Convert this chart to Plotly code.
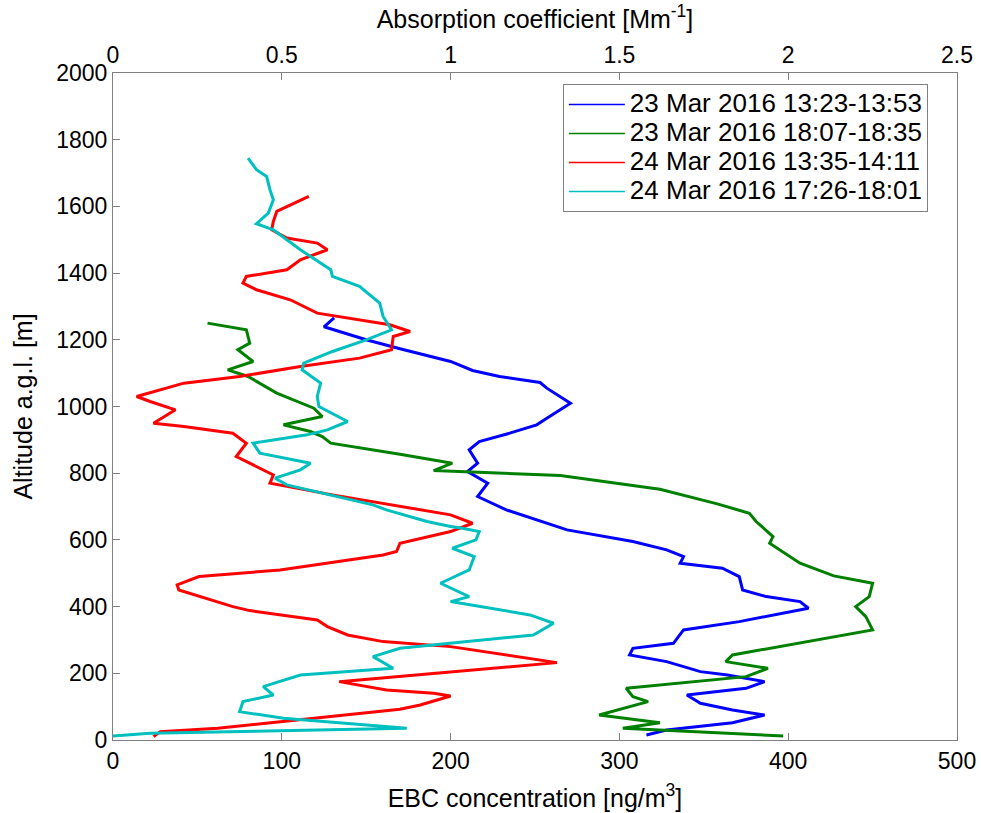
import plotly.graph_objects as go

# ---- data (EBC concentration [ng/m3], altitude [m]) ----
labels = ["23 Mar 2016 13:23-13:53", "23 Mar 2016 18:07-18:35",
          "24 Mar 2016 13:35-14:11", "24 Mar 2016 17:26-18:01"]
colors = ["#0000FF", "#008000", "#FF0000", "#00BFBF"]

blue_x = [131, 125, 150, 170, 200, 213, 229, 253, 257, 271, 257, 251, 235, 217, 211, 216, 210, 222, 216, 233,
          269, 308, 328, 338, 336, 361, 371, 373, 387, 407, 412, 371, 338, 332, 308, 306, 328, 348, 364, 386,
          375, 340, 348, 367, 386, 367, 328, 316]
blue_y = [1266, 1239, 1200, 1173, 1135, 1108, 1090, 1072, 1055, 1010, 965, 945, 920, 895, 870, 830, 805, 770, 730, 690,
          630, 595, 570, 550, 530, 515, 490, 450, 430, 415, 395, 355, 330, 290, 275, 255, 235, 205, 195, 175,
          155, 135, 110, 90, 75, 52, 30, 15]

green_x = [56, 79, 81, 74, 83, 68, 80, 97, 119, 124, 101, 117, 124, 129, 170, 201, 190, 265, 324, 358,
           377, 381, 391, 389, 407, 427, 450, 448, 440, 446, 450, 407, 367, 363, 388, 375, 304, 308, 317, 288,
           324, 302, 397]
green_y = [1250, 1230, 1190, 1170, 1135, 1110, 1090, 1040, 995, 970, 945, 925, 910, 890, 857, 830, 808, 793, 752, 708,
           680, 655, 610, 590, 530, 492, 470, 430, 400, 370, 330, 290, 255, 235, 215, 190, 155, 130, 115, 75,
           52, 35, 12]

red_x = [116, 97, 95, 94, 103, 121, 127, 111, 103, 79, 77, 85, 105, 121, 164, 176, 166, 165, 146, 111,
         75, 42, 14, 22, 37, 24, 42, 71, 79, 73, 95, 93, 130, 160, 200, 213, 200, 170, 168, 160,
         99, 51, 38, 39, 71, 81, 121, 127, 139, 160, 200, 263, 134, 162, 190, 200, 182, 170, 111, 62,
         28, 24]
red_y = [1630, 1585, 1555, 1530, 1505, 1490, 1470, 1440, 1410, 1390, 1370, 1350, 1320, 1280, 1245, 1225, 1210, 1170, 1145, 1120,
         1090, 1070, 1030, 1015, 990, 950, 940, 920, 890, 850, 795, 770, 735, 710, 675, 650, 625, 590, 565, 555,
         510, 490, 465, 450, 400, 388, 360, 340, 315, 295, 280, 232, 175, 150, 140, 132, 105, 92, 60, 35,
         25, 10]

cyan_x = [80, 85, 91, 93, 95, 92, 85, 95, 111, 129, 130, 146, 158, 160, 165, 150, 130, 113, 112, 123,
          121, 122, 139, 127, 115, 83, 87, 117, 111, 96, 103, 154, 162, 186, 200, 207, 217, 215, 201, 214,
          211, 194, 211, 200, 247, 261, 249, 210, 170, 154, 166, 111, 89, 95, 77, 75, 101, 174, 22, 0]
cyan_y = [1745, 1710, 1690, 1650, 1620, 1580, 1548, 1530, 1470, 1410, 1390, 1360, 1310, 1270, 1230, 1200, 1165, 1130, 1110, 1070,
          1030, 1000, 955, 930, 915, 890, 860, 830, 810, 785, 765, 705, 690, 655, 640, 635, 625, 600, 575, 550,
          510, 470, 430, 415, 375, 350, 315, 295, 275, 250, 215, 195, 160, 135, 115, 85, 65, 35, 20, 12]

xs = [blue_x, green_x, red_x, cyan_x]
ys = [blue_y, green_y, red_y, cyan_y]

x_ticks = [0, 100, 200, 300, 400, 500]
y_ticks = [0, 200, 400, 600, 800, 1000, 1200, 1400, 1600, 1800, 2000]
top_ticks = [0, 0.5, 1, 1.5, 2, 2.5]
top_labels = ["0", "0.5", "1", "1.5", "2", "2.5"]

FONT = "Liberation Sans, Arial, sans-serif"
AX = "#808080"

fig = go.Figure()
for x, y, c in zip(xs, ys, colors):
    fig.add_trace(go.Scatter(x=x, y=y, mode="lines", line=dict(color=c, width=3),
                             showlegend=False, hoverinfo="skip"))
for lab, c in zip(labels, colors):
    fig.add_trace(go.Scatter(x=[None], y=[None], mode="lines",
                             name='<span style="font-size:26px">' + lab + '</span>',
                             line=dict(color=c, width=1.5)))
# invisible trace to carry the top axis
fig.add_trace(go.Scatter(x=[top_ticks[0], top_ticks[-1]], y=[None, None], xaxis="x2", yaxis="y",
                         mode="lines", showlegend=False, hoverinfo="skip"))

fig.update_layout(
    width=981, height=813,
    margin=dict(l=113, r=24, t=73, b=73),
    paper_bgcolor="white", plot_bgcolor="white",
    font=dict(family=FONT, size=23, color="black"),
    xaxis=dict(range=[0, 500], tickvals=x_ticks, ticks="inside", ticklen=7, tickcolor=AX,
               showline=True, linecolor=AX, linewidth=1, showgrid=False, zeroline=False,
               automargin=False,
               title=dict(text="EBC concentration [ng/m<sup>3</sup>]", font=dict(size=25), standoff=16),
               tickfont=dict(size=23)),
    xaxis2=dict(range=[0, 2.5], tickvals=top_ticks, ticktext=top_labels,
                overlaying="x", side="top", anchor="y", ticks="inside", ticklen=7, tickcolor=AX,
                showline=True, linecolor=AX, linewidth=1, showgrid=False, zeroline=False,
                automargin=False,
                title=dict(text="Absorption coefficient [Mm<sup>-1</sup>]", font=dict(size=25), standoff=6),
                tickfont=dict(size=23)),
    yaxis=dict(range=[0, 2000], tickvals=y_ticks, ticks="inside", ticklen=7, tickcolor=AX,
               showline=True, linecolor=AX, linewidth=1, mirror=True, showgrid=False, zeroline=False,
               automargin=False,
               title=dict(text="Altitude a.g.l. [m]", font=dict(size=25), standoff=16),
               tickfont=dict(size=23)),
    legend=dict(x=0.533, y=0.9835, xanchor="left", yanchor="top", bgcolor="white",
                bordercolor=AX, borderwidth=1, font=dict(size=20), itemwidth=56,
                tracegroupgap=0),
)

fig.write_html("out.html")
